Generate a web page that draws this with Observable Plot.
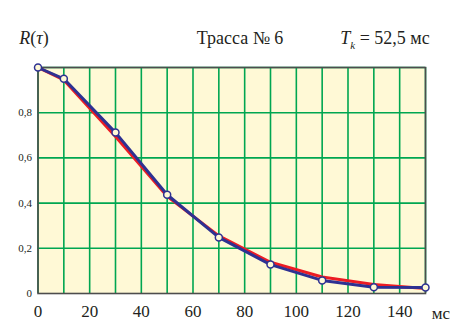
<!DOCTYPE html>
<html><head><meta charset="utf-8">
<script src="https://cdn.jsdelivr.net/npm/d3@7"></script>
<script src="https://cdn.jsdelivr.net/npm/@observablehq/plot@0.6"></script>
<style>
body{margin:0;background:#fff;}
#wrap{position:relative;width:466px;height:323px;font-family:"Liberation Serif","Times New Roman",Tinos,"DejaVu Serif",serif;color:#231f20;}
.t{position:absolute;font-size:18px;white-space:nowrap;line-height:1;transform:translateX(-50%);}
</style></head>
<body><div id="wrap">
<div class="t" style="left:34px;top:29px;"><i>R</i>(<i>τ</i>)</div>
<div class="t" style="left:240px;top:29px;">Трасса № 6</div>
<div class="t" style="left:385px;top:29px;"><i>T</i><sub style="font-size:11px;font-style:italic;">k</sub> = 52,5 мс</div>
<div class="t" style="left:441px;top:305px;font-size:17px;">мс</div>
</div>
<script>
const tau = [0, 10, 30, 50, 70, 90, 110, 130, 150];
const redR = [1.0, 0.945, 0.695, 0.43, 0.255, 0.138, 0.073, 0.04, 0.022];
const blueR = [1.0, 0.95, 0.712, 0.437, 0.248, 0.128, 0.058, 0.028, 0.027];
const xTickLabels = [0, 20, 40, 60, 80, 100, 120, 140];
const yTickLabels = [0, 0.2, 0.4, 0.6, 0.8];
const xGrid = d3.range(0, 151, 10);
const yGrid = [0.2, 0.4, 0.6, 0.8, 1.0];

const red = tau.map((t, i) => ({t, r: redR[i]}));
const blue = tau.map((t, i) => ({t, r: blueR[i]}));

const chart = Plot.plot({
  width: 466, height: 323,
  marginLeft: 37.5, marginRight: 41, marginTop: 67, marginBottom: 30,
  style: {fontFamily: "'Liberation Serif', 'Times New Roman', Tinos, 'DejaVu Serif', serif", color: "#231f20", background: "transparent"},
  x: {domain: [0, 150], label: null},
  y: {domain: [0, 1], label: null},
  marks: [
    Plot.frame({fill: "#fff9d6", stroke: null}),
    Plot.ruleX(xGrid, {stroke: "#00a651", strokeWidth: 1.6}),
    Plot.ruleY(yGrid, {stroke: "#00a651", strokeWidth: 1.6}),
    Plot.frame({stroke: "#4d4d4d", strokeWidth: 1.6}),
    Plot.axisX(xTickLabels, {tickSize: 0, tickPadding: 11, fontSize: 17, label: null, tickFormat: d => String(d)}),
    Plot.axisY(yTickLabels, {tickSize: 0, tickPadding: 6, fontSize: 11, label: null, tickFormat: d => d === 0 ? "0" : String(d).replace(".", ",")}),
    Plot.line(red, {x: "t", y: "r", stroke: "#ec1c24", strokeWidth: 3}),
    Plot.line(blue, {x: "t", y: "r", stroke: "#2e3192", strokeWidth: 3}),
    Plot.dot(blue, {x: "t", y: "r", r: 3.5, stroke: "#2e3192", strokeWidth: 1.5, fill: "#fff9d6"})
  ]
});
chart.style.position = "absolute";
chart.style.left = "0";
chart.style.top = "0";
document.getElementById("wrap").prepend(chart);
</script>
</body></html>
